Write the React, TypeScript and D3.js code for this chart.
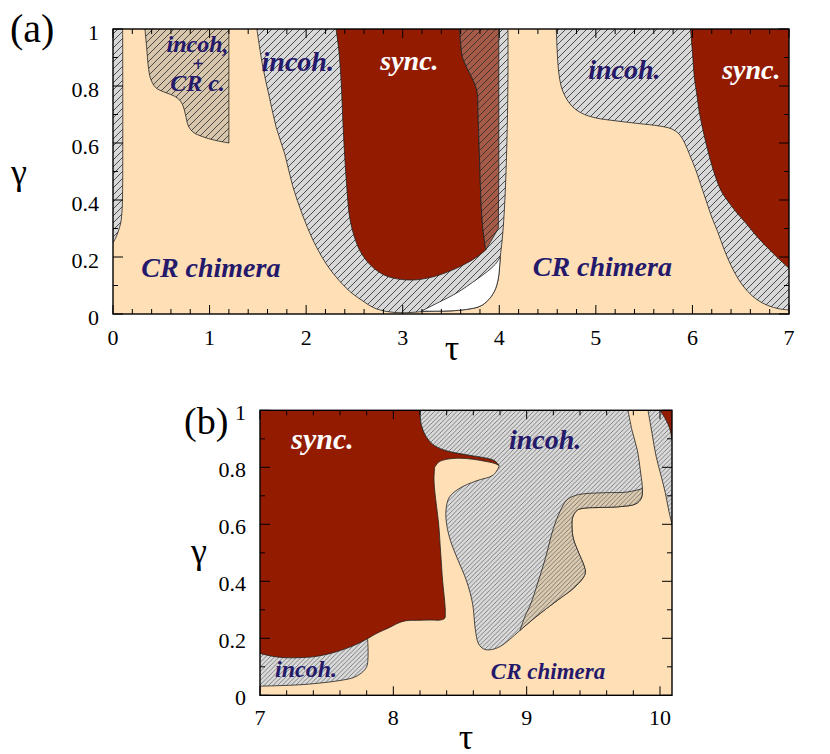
import * as d3 from 'd3';

type Pt = [number, number];
type Seg = { pts: Pt[]; smooth: boolean };

// ---- axes ----
const xTicksA = [0, 1, 2, 3, 4, 5, 6, 7];
const xTicksB = [7, 8, 9, 10];
const yTicks = [0, 0.2, 0.4, 0.6, 0.8, 1];

// ---- panel (a) boundaries, (tau, gamma) ----
const aStripEdge: Pt[] = [[0.1, 1], [0.1, 0.45], [0.095, 0.37], [0.08, 0.32], [0.055, 0.29], [0.025, 0.265], [0, 0.25]];
const aMixEdge: Pt[] = [[1.2, 0.6], [1.05, 0.61], [0.93, 0.622], [0.83, 0.638], [0.78, 0.66], [0.75, 0.7], [0.72, 0.735], [0.67, 0.757], [0.6, 0.77], [0.52, 0.78], [0.44, 0.795], [0.39, 0.825], [0.365, 0.87], [0.35, 0.93], [0.33, 1]];
const aIncohOuter: Pt[] = [[1.49, 1], [1.55, 0.87], [1.62, 0.76], [1.69, 0.655], [1.78, 0.56], [1.86, 0.45], [1.96, 0.35], [2.07, 0.26], [2.2, 0.18], [2.31, 0.13], [2.45, 0.08], [2.59, 0.045], [2.7, 0.022], [2.83, 0.009], [3.0, 0.004], [3.19, 0.008], [3.35, 0.01], [3.5, 0.011], [3.66, 0.016], [3.8, 0.027], [3.88, 0.047], [3.95, 0.08], [3.99, 0.125], [4.01, 0.2], [4.03, 0.26], [4.05, 0.35], [4.07, 0.5], [4.085, 0.7], [4.09, 0.85], [4.09, 1]];
const aWhiteTop: Pt[] = [[3.19, 0.01], [3.38, 0.042], [3.55, 0.072], [3.66, 0.096], [3.78, 0.125], [3.88, 0.15], [3.96, 0.175], [4.01, 0.2]];
const aWhiteBottom: Pt[] = [[4.01, 0.2], [3.99, 0.125], [3.95, 0.08], [3.88, 0.047], [3.8, 0.027], [3.66, 0.016], [3.5, 0.011], [3.35, 0.01], [3.19, 0.01]];
const aSyncLeft: Pt[] = [[2.31, 1], [2.34, 0.92], [2.365, 0.8], [2.38, 0.68], [2.4, 0.55], [2.42, 0.45], [2.45, 0.34], [2.5, 0.27], [2.56, 0.22], [2.63, 0.185], [2.71, 0.158], [2.8, 0.138], [2.9, 0.126], [3.02, 0.12], [3.14, 0.12], [3.26, 0.126], [3.38, 0.137], [3.52, 0.155], [3.66, 0.178], [3.78, 0.203], [3.86, 0.225]];
const aSyncRight: Pt[] = [[3.86, 0.225], [3.83, 0.3], [3.81, 0.4], [3.8, 0.5], [3.79, 0.6], [3.78, 0.7], [3.77, 0.78], [3.73, 0.82], [3.67, 0.86], [3.62, 0.9], [3.6, 0.95], [3.59, 1]];
const aBrownBottom: Pt[] = [[3.86, 0.225], [3.93, 0.265], [3.99, 0.3]];
const aIncohRight: Pt[] = [[4.59, 1], [4.6, 0.92], [4.615, 0.85], [4.64, 0.8], [4.68, 0.765], [4.75, 0.73], [4.85, 0.705], [5.0, 0.688], [5.2, 0.678], [5.45, 0.668], [5.65, 0.66], [5.78, 0.65], [5.86, 0.632], [5.92, 0.6], [5.97, 0.56], [6.03, 0.51], [6.08, 0.46], [6.14, 0.4], [6.2, 0.34], [6.26, 0.29], [6.33, 0.225], [6.4, 0.17], [6.48, 0.12], [6.57, 0.08], [6.67, 0.05], [6.78, 0.03], [6.9, 0.018], [7.0, 0.014]];
const aSyncRightEdge: Pt[] = [[5.98, 1], [6.0, 0.92], [6.02, 0.83], [6.05, 0.76], [6.07, 0.71], [6.1, 0.66], [6.14, 0.6], [6.19, 0.535], [6.24, 0.48], [6.3, 0.43], [6.38, 0.39], [6.46, 0.355], [6.55, 0.32], [6.66, 0.275], [6.77, 0.235], [6.88, 0.198], [7.0, 0.16]];

// ---- panel (b) boundaries ----
const bSyncGray: Pt[] = [[8.2, 1], [8.21, 0.95], [8.25, 0.905], [8.31, 0.876], [8.4, 0.858], [8.5, 0.848], [8.6, 0.84], [8.7, 0.832], [8.76, 0.823], [8.795, 0.805]];
const bFingerTop: Pt[] = [[8.795, 0.805], [8.77, 0.812], [8.7, 0.82], [8.6, 0.828], [8.5, 0.832], [8.4, 0.828], [8.34, 0.818], [8.31, 0.8]];
const bSyncPeach: Pt[] = [[8.31, 0.8], [8.305, 0.76], [8.31, 0.72], [8.325, 0.66], [8.34, 0.6], [8.355, 0.5], [8.37, 0.4], [8.385, 0.33], [8.39, 0.29], [8.385, 0.27], [8.35, 0.264], [8.28, 0.264], [8.18, 0.263], [8.1, 0.262], [8.05, 0.256], [7.98, 0.24], [7.87, 0.216], [7.8, 0.197], [7.68, 0.17], [7.53, 0.147], [7.4, 0.135], [7.3, 0.132], [7.18, 0.132], [7.08, 0.138], [7.0, 0.147]];
const bGrayPeach: Pt[] = [[9.76, 1], [9.79, 0.93], [9.83, 0.86], [9.855, 0.78], [9.868, 0.725], [9.86, 0.692], [9.82, 0.672], [9.7, 0.662], [9.55, 0.659], [9.44, 0.657], [9.38, 0.65], [9.345, 0.625], [9.34, 0.59], [9.35, 0.55], [9.39, 0.5], [9.43, 0.455], [9.44, 0.43], [9.42, 0.41], [9.35, 0.375], [9.25, 0.34], [9.15, 0.305], [9.05, 0.268], [8.95, 0.228], [8.87, 0.195], [8.8, 0.171], [8.73, 0.16], [8.68, 0.162], [8.64, 0.18], [8.615, 0.23], [8.595, 0.32], [8.55, 0.4], [8.48, 0.48], [8.43, 0.54], [8.4, 0.6], [8.395, 0.65], [8.42, 0.695], [8.5, 0.727], [8.62, 0.752], [8.75, 0.773], [8.795, 0.805]];
const bTanTop: Pt[] = [[8.95, 0.228], [8.99, 0.28], [9.03, 0.32], [9.08, 0.39], [9.14, 0.48], [9.2, 0.585], [9.25, 0.645], [9.3, 0.685], [9.37, 0.702], [9.45, 0.708], [9.6, 0.711], [9.75, 0.713], [9.868, 0.725]];
const bIncohLow: Pt[] = [[7.0, 0.032], [7.15, 0.034], [7.3, 0.037], [7.45, 0.043], [7.6, 0.052], [7.7, 0.062], [7.76, 0.078], [7.8, 0.1], [7.81, 0.13], [7.81, 0.17], [7.805, 0.21]];
const bStripRight: Pt[] = [[9.91, 1], [9.94, 0.92], [9.97, 0.84], [10.01, 0.767], [10.04, 0.71], [10.065, 0.65], [10.09, 0.6]];
const bCorner: Pt[] = [[10.0, 1], [10.04, 0.97], [10.07, 0.94], [10.09, 0.9]];

const PEACH = '#ffdfb6';
const RED = '#931b00';
const NAVY = '#24196b';
const FONT = 'Liberation Serif';

const S = (pts: Pt[]): Seg => ({ pts, smooth: true });
const L = (pts: Pt[]): Seg => ({ pts, smooth: false });
const rev = (pts: Pt[]) => pts.slice().reverse();

type Region = { segs: Seg[]; fill: string };
type Label = { text: string; t: number; g: number; size: number; color: string };

function pathOf(segs: Seg[], x: d3.ScaleLinear<number, number>, y: d3.ScaleLinear<number, number>) {
  const curved = d3.line<Pt>().x((d) => x(d[0])).y((d) => y(d[1])).curve(d3.curveCatmullRom.alpha(0.5));
  const straight = d3.line<Pt>().x((d) => x(d[0])).y((d) => y(d[1]));
  let d = '';
  segs.forEach((s, i) => {
    let p = (s.smooth ? curved : straight)(s.pts) || '';
    if (i > 0) p = 'L' + p.slice(1);
    d += p;
  });
  return d + 'Z';
}

const Hatch = ({ id, size, bg, line, w }: { id: string; size: number; bg: string; line: string; w: number }) => (
  <pattern id={id} patternUnits="userSpaceOnUse" width={size} height={size}>
    <rect width={size} height={size} fill={bg} />
    <path
      d={`M0,${size} L${size},0 M${-size / 4},${size / 4} L${size / 4},${-size / 4} M${(3 * size) / 4},${(5 * size) / 4} L${(5 * size) / 4},${(3 * size) / 4}`}
      stroke={line}
      strokeWidth={w}
    />
  </pattern>
);

type PanelProps = {
  id: string;
  x: d3.ScaleLinear<number, number>;
  y: d3.ScaleLinear<number, number>;
  xTicks: number[];
  regions: Region[];
  labels: Label[];
  xLabelY: number;
  yLabelDy: number;
};

const Panel = ({ id, x, y, xTicks, regions, labels, xLabelY, yLabelDy }: PanelProps) => {
  const [x0, x1] = x.range();
  const [y0, y1] = y.range();
  const xd = x.domain();
  const xMinor = d3.range(Math.ceil(xd[0] * 5) / 5, xd[1] + 1e-6, 0.2);
  const yMinor = d3.range(0, 1.0001, 0.1);
  const isMajorX = (v: number) => Math.abs(v - Math.round(v)) < 1e-6;
  const isMajorY = (v: number) => Math.abs(v * 5 - Math.round(v * 5)) < 1e-6;
  return (
    <g>
      <clipPath id={`clip-${id}`}>
        <rect x={x0} y={y1} width={x1 - x0} height={y0 - y1} />
      </clipPath>
      <g clipPath={`url(#clip-${id})`}>
        <rect x={x0} y={y1} width={x1 - x0} height={y0 - y1} fill={PEACH} />
        {regions.map((r, i) => (
          <path key={i} d={pathOf(r.segs, x, y)} fill={r.fill} stroke="#222" strokeWidth={0.8} strokeLinejoin="round" />
        ))}
        {labels.map((l, i) => (
          <text
            key={i}
            x={x(l.t)}
            y={y(l.g)}
            textAnchor="middle"
            fontFamily={FONT}
            fontSize={l.size}
            fontWeight="bold"
            fontStyle="italic"
            fill={l.color}
          >
            {l.text}
          </text>
        ))}
      </g>
      {xMinor.map((v, i) => {
        const len = isMajorX(v) ? 9 : 5;
        return (
          <g key={`xt${i}`} stroke="#000" strokeWidth={1}>
            <line x1={x(v)} x2={x(v)} y1={y0} y2={y0 - len} />
            <line x1={x(v)} x2={x(v)} y1={y1} y2={y1 + len} />
          </g>
        );
      })}
      {yMinor.map((v, i) => {
        const len = isMajorY(v) ? 10 : 5;
        return (
          <g key={`yt${i}`} stroke="#000" strokeWidth={1}>
            <line x1={x0} x2={x0 + len} y1={y(v)} y2={y(v)} />
            <line x1={x1} x2={x1 - len} y1={y(v)} y2={y(v)} />
          </g>
        );
      })}
      <rect x={x0} y={y1} width={x1 - x0} height={y0 - y1} fill="none" stroke="#000" strokeWidth={1.4} />
      {xTicks.map((v) => (
        <text key={`xl${v}`} x={x(v)} y={xLabelY} textAnchor="middle" fontFamily={FONT} fontSize={22}>
          {v}
        </text>
      ))}
      {yTicks.map((v) => (
        <text key={`yl${v}`} x={x0 - 14} y={y(v) + yLabelDy} textAnchor="end" fontFamily={FONT} fontSize={22}>
          {String(+v.toFixed(1))}
        </text>
      ))}
    </g>
  );
};

export default function App() {
  const xA = d3.scaleLinear().domain([0, 7]).range([113, 789]);
  const yA = d3.scaleLinear().domain([0, 1]).range([314, 29]);
  const xB = d3.scaleLinear().domain([7, 10.09]).range([260, 672]);
  const yB = d3.scaleLinear().domain([0, 1]).range([695.3, 410.3]);

  const regionsA: Region[] = [
    { segs: [S(aStripEdge), L([[0, 0.25], [-0.2, 0.25], [-0.2, 1.2], [0.1, 1.2], [0.1, 1]])], fill: 'url(#hA-gray)' },
    { segs: [S(aMixEdge), L([[0.33, 1], [0.33, 1.2], [1.2, 1.2], [1.2, 0.6]])], fill: 'url(#hA-tan)' },
    { segs: [S(aIncohOuter), L([[4.09, 1], [4.09, 1.2], [1.49, 1.2], [1.49, 1]])], fill: 'url(#hA-gray)' },
    { segs: [S(aWhiteTop), S(aWhiteBottom)], fill: '#ffffff' },
    { segs: [S(aSyncLeft), S(aSyncRight), L([[3.59, 1], [3.59, 1.2], [2.31, 1.2], [2.31, 1]])], fill: RED },
    { segs: [S(rev(aSyncRight)), S(aBrownBottom), L([[3.99, 0.3], [3.995, 0.5], [3.995, 1.2], [3.59, 1.2], [3.59, 1]])], fill: 'url(#hA-brown)' },
    { segs: [S(aIncohRight), L([[7, 0.014], [7.3, 0.014], [7.3, 1.2], [4.59, 1.2], [4.59, 1]])], fill: 'url(#hA-gray)' },
    { segs: [S(aSyncRightEdge), L([[7, 0.16], [7.3, 0.16], [7.3, 1.2], [5.98, 1.2], [5.98, 1]])], fill: RED },
  ];

  const regionsB: Region[] = [
    { segs: [S(bIncohLow), L([[7.805, 0.21], [7.805, 0.3], [6.8, 0.3], [6.8, 0.032], [7, 0.032]])], fill: 'url(#hB-gray)' },
    { segs: [L([[6.8, 0.147], [6.8, 1.2], [8.2, 1.2], [8.2, 1]]), S(bSyncGray), S(bFingerTop), S(bSyncPeach)], fill: RED },
    { segs: [L([[8.2, 1], [8.2, 1.2], [9.76, 1.2], [9.76, 1]]), S(bGrayPeach), S(rev(bSyncGray))], fill: 'url(#hB-gray)' },
    { segs: [S(bTanTop), S(bGrayPeach.slice(4, 23))], fill: 'url(#hB-tan)' },
    { segs: [S(bStripRight), L([[10.09, 0.6], [10.3, 0.6], [10.3, 1.2], [9.91, 1.2], [9.91, 1]])], fill: 'url(#hB-gray)' },
    { segs: [S(bCorner), L([[10.09, 0.9], [10.3, 0.9], [10.3, 1.2], [10.0, 1.2], [10.0, 1]])], fill: RED },
  ];

  const labelsA: Label[] = [
    { text: 'incoh,', t: 0.875, g: 0.92, size: 24, color: NAVY },
    { text: '+', t: 0.88, g: 0.853, size: 20, color: NAVY },
    { text: 'CR c.', t: 0.875, g: 0.784, size: 24, color: NAVY },
    { text: 'incoh.', t: 1.913, g: 0.854, size: 28, color: NAVY },
    { text: 'sync.', t: 3.07, g: 0.856, size: 28, color: '#fff' },
    { text: 'incoh.', t: 5.295, g: 0.825, size: 28, color: NAVY },
    { text: 'sync.', t: 6.61, g: 0.825, size: 28, color: '#fff' },
    { text: 'CR chimera', t: 1.013, g: 0.131, size: 28, color: NAVY },
    { text: 'CR chimera', t: 5.067, g: 0.133, size: 28, color: NAVY },
  ];

  const labelsB: Label[] = [
    { text: 'sync.', t: 7.469, g: 0.864, size: 30, color: '#fff' },
    { text: 'incoh.', t: 9.138, g: 0.863, size: 28, color: NAVY },
    { text: 'incoh.', t: 7.345, g: 0.065, size: 24, color: NAVY },
    { text: 'CR chimera', t: 9.16, g: 0.058, size: 23, color: NAVY },
  ];

  return (
    <svg width={830} height={754} style={{ position: 'absolute', left: 0, top: 0 }}>
      <defs>
        <Hatch id="hA-gray" size={7} bg="#d8d8d8" line="#2a2a2a" w={0.8} />
        <Hatch id="hA-tan" size={7} bg="#d7c6ab" line="#2a2a2a" w={0.8} />
        <Hatch id="hA-brown" size={7} bg="#a65b49" line="#2a2a2a" w={0.8} />
        <Hatch id="hB-gray" size={4.5} bg="#dadada" line="#555" w={0.7} />
        <Hatch id="hB-tan" size={4.5} bg="#dccbb0" line="#555" w={0.7} />
      </defs>
      <rect width={830} height={754} fill="#fff" />
      <Panel id="a" x={xA} y={yA} xTicks={xTicksA} regions={regionsA} labels={labelsA} xLabelY={345} yLabelDy={11} />
      <Panel id="b" x={xB} y={yB} xTicks={xTicksB} regions={regionsB} labels={labelsB} xLabelY={725} yLabelDy={10} />
      <text x={10} y={42} fontFamily={FONT} fontSize={40}>(a)</text>
      <text x={184} y={434} fontFamily={FONT} fontSize={38}>(b)</text>
      <text x={19} y={184} textAnchor="middle" fontFamily={FONT} fontSize={36}>γ</text>
      <text x={452} y={360} textAnchor="middle" fontFamily={FONT} fontSize={36}>τ</text>
      <text x={199} y={563} textAnchor="middle" fontFamily={FONT} fontSize={36}>γ</text>
      <text x={466} y={749} textAnchor="middle" fontFamily={FONT} fontSize={36}>τ</text>
    </svg>
  );
}
